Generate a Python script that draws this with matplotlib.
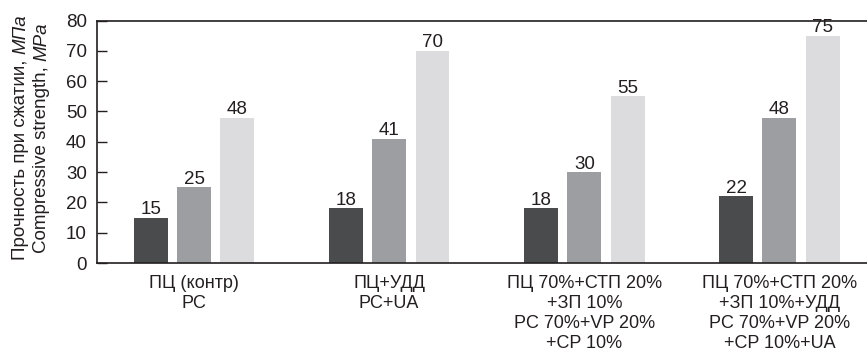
import numpy as np
import matplotlib
matplotlib.use("Agg")
import matplotlib.pyplot as plt

plt.rcParams['font.family'] = ['Liberation Sans', 'DejaVu Sans']

# Data
categories = [
    "ПЦ (контр)\nPC",
    "ПЦ+УДД\nPC+UA",
    "ПЦ 70%+СТП 20%\n+ЗП 10%\nPC 70%+VP 20%\n+CP 10%",
    "ПЦ 70%+СТП 20%\n+ЗП 10%+УДД\nPC 70%+VP 20%\n+CP 10%+UA",
]
series_a = [15, 18, 18, 22]
series_b = [25, 41, 30, 48]
series_c = [48, 70, 55, 75]
yticks = [0, 10, 20, 30, 40, 50, 60, 70, 80]

colors = ["#4a4b4d", "#9d9ea1", "#dcdcde"]
txt = "#231f20"

W, H = 867, 353
fig = plt.figure(figsize=(W / 100, H / 100), dpi=100)
ax = fig.add_axes([96.5 / W, (H - 263) / H, (877 - 96.5) / W, (263 - 20.5) / H])

x = np.arange(len(categories))
width = 0.174
step = 0.222
for i, (vals, col) in enumerate(zip([series_a, series_b, series_c], colors)):
    bars = ax.bar(x + (i - 1) * step, vals, width, color=col, zorder=2)
    for b, v in zip(bars, vals):
        ax.annotate(str(v), (b.get_x() + b.get_width() / 2, v), xytext=(0, 2.5),
                    textcoords="offset points", ha="center", va="baseline",
                    fontsize=13.5, color=txt)

ax.set_xlim(-0.5, 3.5)
ax.set_ylim(0, 80)
ax.set_yticks(yticks)
ax.set_xticks(x)
ax.set_xticklabels(categories, fontsize=13, color=txt, linespacing=1.22)
ax.tick_params(axis="x", length=0, pad=9)
ax.tick_params(axis="y", direction="in", length=7.5, width=1, pad=7,
               labelsize=13.5, labelcolor=txt, color=txt)
for s in ax.spines.values():
    s.set_color(txt)
    s.set_linewidth(1.2)

# Two-line y label with italic units, built piece by piece
renderer = fig.canvas.get_renderer()
lines = [("Прочность при сжатии, ", "МПа", 25.0), ("Compressive strength, ", "MPa", 46.0)]
yc = (263 + 12) / 2
for normal, italic, xb in lines:
    t1 = fig.text(0, 0, normal, rotation=90, rotation_mode="anchor", ha="left",
                  va="baseline", fontsize=13.5, color=txt)
    t2 = fig.text(0, 0, italic, rotation=90, rotation_mode="anchor", ha="left",
                  va="baseline", fontsize=13.5, style="italic", color=txt)
    h1 = t1.get_window_extent(renderer).height
    h2 = t2.get_window_extent(renderer).height
    y0 = yc + (h1 + h2) / 2  # pixel from top where the text starts
    t1.set_position((xb / W, (H - y0) / H))
    t2.set_position((xb / W, (H - y0 + h1) / H))

fig.savefig("out.png", dpi=100)
